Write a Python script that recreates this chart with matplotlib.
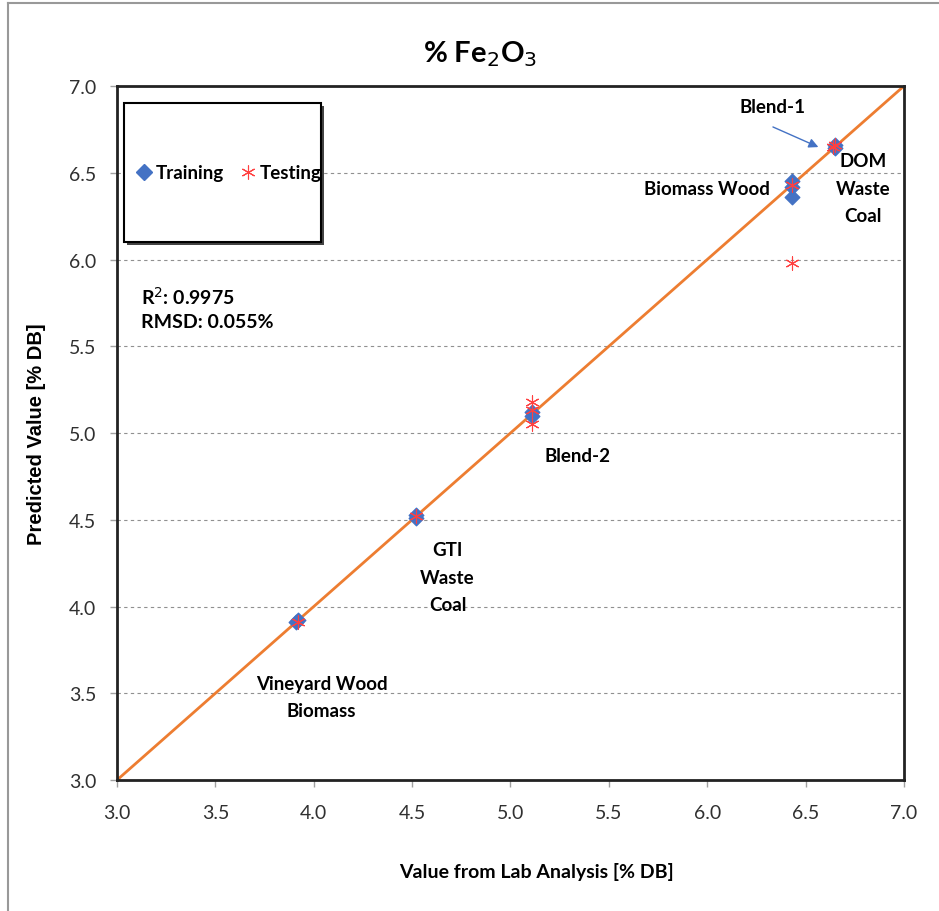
import numpy as np
import matplotlib.pyplot as plt
from matplotlib.patches import Rectangle
from matplotlib.lines import Line2D

plt.rcParams['font.family'] = ['Lato', 'DejaVu Sans']

# training data (lab value, predicted value)
train_x = [3.92, 3.91, 4.52, 4.52, 5.11, 5.11, 6.43, 6.43, 6.43, 6.65, 6.65]
train_y = [3.92, 3.91, 4.53, 4.51, 5.10, 5.12, 6.45, 6.42, 6.36, 6.66, 6.64]

# testing data
test_x = [3.92, 4.52, 5.11, 5.11, 5.11, 6.43, 6.43, 6.65, 6.64]
test_y = [3.91, 4.52, 5.18, 5.05, 5.13, 6.43, 5.98, 6.66, 6.65]

ticks = [3.0, 3.5, 4.0, 4.5, 5.0, 5.5, 6.0, 6.5, 7.0]

fig = plt.figure(figsize=(9.39, 9.12), dpi=100)
ax = fig.add_axes([0.1246, 0.1436, 0.8381, 0.761])

# 1:1 line
ax.plot([3, 7], [3, 7], color='#ED7D31', lw=2, zorder=2)

ax.scatter(train_x, train_y, marker='D', s=55, color='#4472C4', zorder=3)
ax.scatter(test_x, test_y, marker=(6, 2, 0), s=90, color='#FF4040', linewidths=0.8, zorder=4)

ax.set_xlim(3, 7)
ax.set_ylim(3, 7)
ax.set_xticks(ticks)
ax.set_yticks(ticks)
ax.set_xticklabels(['%.1f' % t for t in ticks], fontsize=14)
ax.set_yticklabels(['%.1f' % t for t in ticks], fontsize=14)
ax.tick_params(length=5, width=1, color='#A0A0A0', labelcolor='#303030')
ax.tick_params(axis='x', pad=12)
ax.tick_params(axis='y', pad=10)
ax.yaxis.grid(True, linestyle=(0, (3, 3)), color='#909090', lw=0.8)
for s in ax.spines.values():
    s.set_linewidth(2)
    s.set_color('#222222')

ax.set_title('% Fe$_2$O$_3$', fontsize=21, fontweight='bold', pad=18, x=0.461)
ax.set_xlabel('Value from Lab Analysis [% DB]', fontsize=14, fontweight='bold')
ax.xaxis.set_label_coords(0.533, -0.118)
ax.set_ylabel('Predicted Value [% DB]', fontsize=14.5, fontweight='bold',
              family=['Liberation Sans', 'DejaVu Sans'])
ax.yaxis.set_label_coords(-0.09, 0.5)

# legend box with shadow
ax.add_patch(Rectangle((3.052, 6.085), 1.0, 0.8, facecolor='#444444', edgecolor='none',
                       zorder=5, clip_on=False))
ax.add_patch(Rectangle((3.036, 6.10), 1.0, 0.8, facecolor='white', edgecolor='black',
                       lw=1.5, zorder=6, clip_on=False))
handles = [Line2D([], [], marker='D', ls='none', color='#4472C4', markersize=8),
           Line2D([], [], marker=(6, 2, 0), ls='none', color='#FF4040', markersize=10,
                  markeredgewidth=0.8)]
leg = ax.legend(handles, ['Training', 'Testing'], loc='center',
                bbox_to_anchor=(3.565, 6.50), bbox_transform=ax.transData, ncol=2,
                frameon=False, prop={'weight': 'bold', 'size': 13.5}, handletextpad=0.1,
                columnspacing=0.8, handlelength=1.0)
leg.set_zorder(7)

# statistics
ax.text(3.12, 5.79, 'R$^2$: 0.9975', fontsize=14, fontweight='bold', va='center')
ax.text(3.12, 5.64, 'RMSD: 0.055%', fontsize=14, fontweight='bold', va='center')

# annotations
lab = dict(fontsize=13.5, fontweight='bold', ha='center', va='center', linespacing=1.75)
ax.text(6.33, 6.88, 'Blend-1', **lab)
ax.annotate('', xy=(6.565, 6.648), xytext=(6.334, 6.764),
            arrowprops=dict(arrowstyle='-|>', color='#4472C4', lw=1,
                            shrinkA=0, shrinkB=0, mutation_scale=14))
ax.text(6.79, 6.41, 'DOM\nWaste\nCoal', **lab)
ax.text(6.0, 6.41, 'Biomass Wood', **lab)
ax.text(5.34, 4.87, 'Blend-2', **lab)
ax.text(4.68, 4.17, 'GTI\nWaste\nCoal', **lab)
ax.text(4.04, 3.48, 'Vineyard Wood\nBiomass', **lab)

# outer frame (only left and top edges visible)
fig.add_artist(Line2D([0.0085, 0.0085], [0, 0.9955], color='#999999', lw=1.5))
fig.add_artist(Line2D([0.0085, 1], [0.9955, 0.9955], color='#999999', lw=1.5))

fig.savefig('out.png', dpi=100)
